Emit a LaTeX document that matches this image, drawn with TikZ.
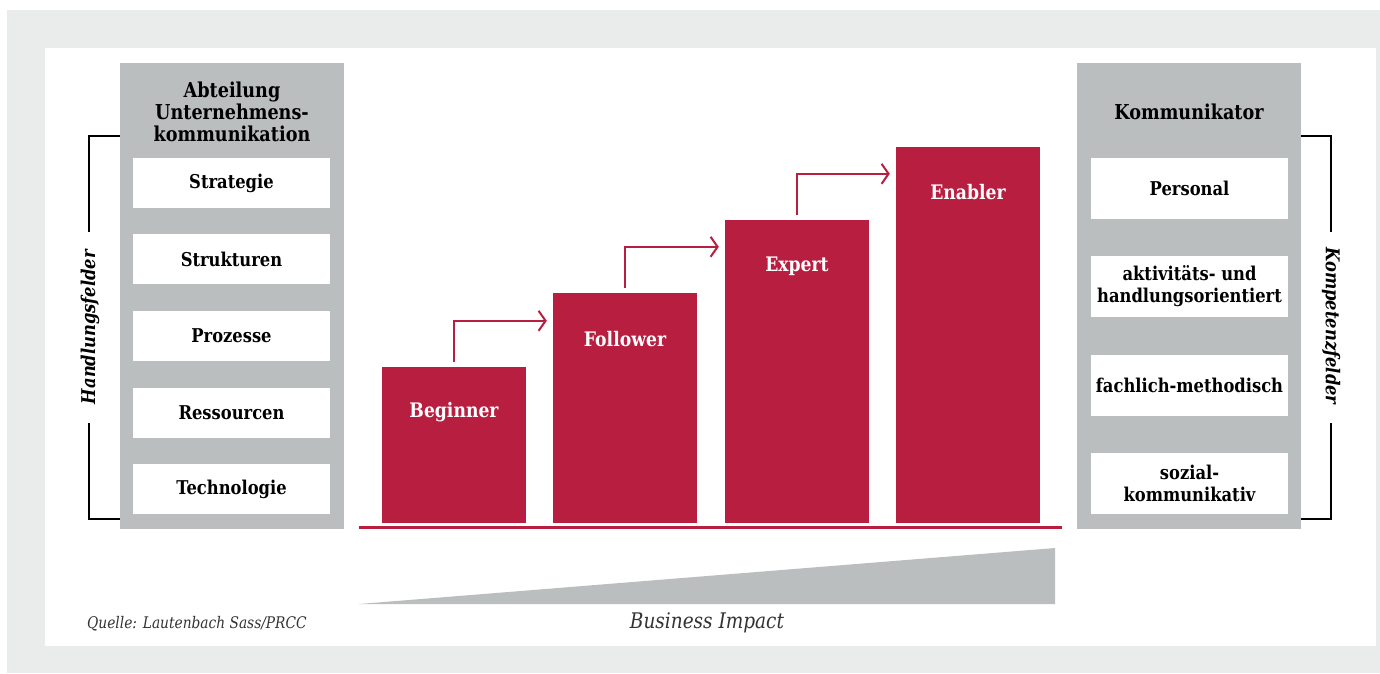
\documentclass[tikz,border=0pt]{standalone}
\usepackage{fontspec}
\setmainfont{DejaVu Serif}[FakeStretch=0.86]
\usetikzlibrary{calc,arrows.meta}
\definecolor{pagegray}{HTML}{EAECEB}
\definecolor{colgray}{HTML}{BBBEBF}
\definecolor{brand}{HTML}{B71E3F}
\definecolor{softblack}{HTML}{333333}
\begin{document}
\begin{tikzpicture}[x=1pt,y=-1pt,
  column/.style={fill=colgray, minimum width=224pt, minimum height=466pt, inner sep=0pt},
  fieldbox/.style={fill=white, minimum width=197pt, inner sep=0pt, align=center,
    font=\fontsize{19}{22}\selectfont\bfseries},
  headtext/.style={align=center, inner sep=0pt, font=\fontsize{20.5}{22}\selectfont\bfseries},
  bar/.style={fill=brand, minimum width=144pt, inner sep=0pt},
  barlabel/.style={text=white, inner sep=0pt, font=\fontsize{20}{22}\selectfont\bfseries},
  stepline/.style={draw=brand, line width=2pt,
    -{Straight Barb[length=7pt,width=20pt,line width=2pt]}},
  bracket/.style={draw=black, line width=2pt},
  sidelabel/.style={inner sep=0pt, font=\fontsize{19}{21}\selectfont\bfseries\itshape}
]
% page frame
\useasboundingbox (0,0) rectangle (1380,673);
\fill[pagegray] (7,10) rectangle (1380,673);
\fill[white] (45,48) rectangle (1376,646);

% left column: fields of action
\node[column] (col1) at (232,296) {};
\node[headtext] (h1) at (232,112) {Abteilung\\Unternehmens-\\kommunikation};
\node[fieldbox, minimum height=50pt] (f1) at (231.5,183) {Strategie};
\node[fieldbox, minimum height=50pt] (f2) at (231.5,259) {Strukturen};
\node[fieldbox, minimum height=50pt] (f3) at (231.5,336) {Prozesse};
\node[fieldbox, minimum height=50pt] (f4) at (231.5,413) {Ressourcen};
\node[fieldbox, minimum height=50pt] (f5) at (231.5,489) {Technologie};

% right column: fields of competence
\node[column] (col2) at (1189,296) {};
\node[headtext] (h2) at (1189,112) {Kommunikator};
\node[fieldbox, minimum height=61pt] (k1) at (1189.5,188.5) {Personal};
\node[fieldbox, minimum height=61pt] (k2) at (1189.5,286.5) {aktivitäts- und\\handlungsorientiert};
\node[fieldbox, minimum height=61pt] (k3) at (1189.5,385.5) {fachlich-methodisch};
\node[fieldbox, minimum height=61pt] (k4) at (1189.5,483.5) {sozial-\\kommunikativ};

% side brackets with rotated captions
\node[sidelabel, rotate=90] (s1) at (90,327) {Handlungsfelder};
\node[sidelabel, rotate=-90] (s2) at (1331,326) {Kompetenzfelder};
\draw[bracket] (col1.west |- 0,136) -| (89,232);
\draw[bracket] (col1.west |- 0,519) -| (89,423);
\draw[bracket] (col2.east |- 0,136) -| (1331,232);
\draw[bracket] (col2.east |- 0,519) -| (1331,423);

% maturity steps
\node[bar, minimum height=156pt] (b1) at (454,445) {};
\node[bar, minimum height=230pt] (b2) at (625,408) {};
\node[bar, minimum height=303pt] (b3) at (797,371.5) {};
\node[bar, minimum height=376pt] (b4) at (968,335) {};
\node[barlabel] (l1) at ($(b1.north)+(0,45)$) {Beginner};
\node[barlabel] (l2) at ($(b2.north)+(0,46)$) {Follower};
\node[barlabel] (l3) at ($(b3.north)+(0,46)$) {Expert};
\node[barlabel] (l4) at ($(b4.north)+(0,45)$) {Enabler};

\draw[stepline] ($(b1.north)+(0,-5)$) |- ($(b2.north west)+(-6,28)$);
\draw[stepline] ($(b2.north)+(0,-5)$) |- ($(b3.north west)+(-6,27)$);
\draw[stepline] ($(b3.north)+(0,-5)$) |- ($(b4.north west)+(-6,27)$);

% base line and impact wedge
\coordinate (baseL) at (359,527.5);
\coordinate (baseR) at (1062,527.5);
\draw[brand, line width=2.5pt] (baseL) -- (baseR);
\fill[colgray] (359,604) -- (1055,548) -- (1055,604) -- cycle;
\node[inner sep=0pt, text=softblack, font=\fontsize{21.5}{24}\selectfont\itshape] (impact) at (707,623) {Business Impact};

% source note
\node[inner sep=0pt, anchor=west, text=softblack, font=\fontsize{16}{18}\selectfont\itshape] (src) at (87,624) {Quelle: Lautenbach Sass/PRCC};
\end{tikzpicture}
\end{document}
